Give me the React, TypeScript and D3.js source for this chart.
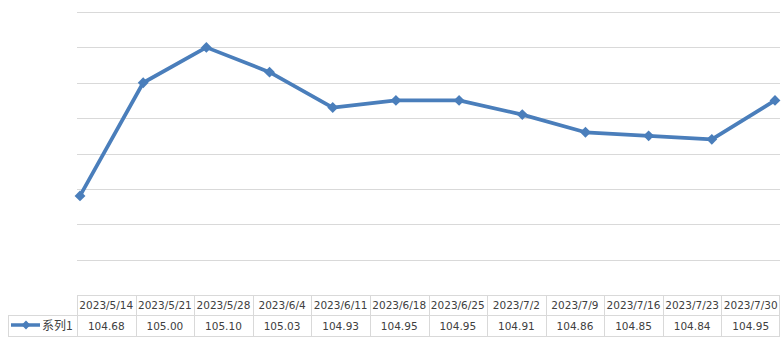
import React from "react";
import * as d3 from "d3";

const categories = ["2023/5/14","2023/5/21","2023/5/28","2023/6/4","2023/6/11","2023/6/18","2023/6/25","2023/7/2","2023/7/9","2023/7/16","2023/7/23","2023/7/30"];
const values = [104.68,105.00,105.10,105.03,104.93,104.95,104.95,104.91,104.86,104.85,104.84,104.95];
const seriesName = "系列1";
const yTicks = [104.5,104.6,104.7,104.8,104.9,105.0,105.1,105.2];

const W = 782, H = 356;
const lineColor = "#4a7ebb";
const gridColor = "#d9d9d9";
const textColor = "#404040";
const font = "'DejaVu Sans', sans-serif";
const cjkFont = "'Noto Sans CJK SC', 'DejaVu Sans', sans-serif";

export default function App() {
  const x = d3.scalePoint<string>().domain(categories).range([80, 775]).padding(0);
  const y = d3.scaleLinear().domain([104.4, 105.2]).range([295, 12]);
  const band = d3.scaleBand<string>().domain(categories).range([77, 780]);
  const line = d3.line<number>().x((_, i) => x(categories[i]) as number).y(d => y(d));
  const diamond = d3.symbol().type(d3.symbolDiamond2).size(75)();
  const tableTop = 295, rowMid = 315, tableBottom = 336;
  return (
    <svg width={W} height={H} style={{ position: "absolute", left: 0, top: 0, background: "#fff" }}>
      {yTicks.map(t => (
        <line key={t} x1={77} x2={780} y1={Math.round(y(t)) + 0.5} y2={Math.round(y(t)) + 0.5} stroke={gridColor} strokeWidth={1} />
      ))}
      <path d={line(values) || ""} fill="none" stroke={lineColor} strokeWidth={3.75} strokeLinejoin="round" />
      {values.map((v, i) => (
        <path key={i} d={diamond || ""} transform={`translate(${x(categories[i])},${y(v)})`} fill={lineColor} />
      ))}
      {/* data table */}
      <g stroke={gridColor} strokeWidth={1} fill="none" shapeRendering="crispEdges">
        <line x1={77} x2={780} y1={tableTop + 0.5} y2={tableTop + 0.5} />
        <line x1={8} x2={780} y1={rowMid + 0.5} y2={rowMid + 0.5} />
        <line x1={8} x2={780} y1={tableBottom + 0.5} y2={tableBottom + 0.5} />
        <line x1={8.5} x2={8.5} y1={rowMid} y2={tableBottom} />
        {categories.map(c => (
          <line key={c} x1={Math.round(band(c) as number) + 0.5} x2={Math.round(band(c) as number) + 0.5} y1={tableTop} y2={tableBottom} />
        ))}
        <line x1={779.5} x2={779.5} y1={tableTop} y2={tableBottom} />
      </g>
      <g fontFamily={font} fontSize={10.5} fill={textColor} textAnchor="middle">
        {categories.map(c => (
          <text key={c} x={(band(c) as number) + band.bandwidth() / 2} y={309}>{c}</text>
        ))}
        {values.map((v, i) => (
          <text key={i} x={(band(categories[i]) as number) + band.bandwidth() / 2} y={330}>{v.toFixed(2)}</text>
        ))}
      </g>
      <line x1={11} x2={40} y1={325} y2={325} stroke={lineColor} strokeWidth={3.5} />
      <path d={d3.symbol().type(d3.symbolDiamond2).size(50)() || ""} transform="translate(26,325)" fill={lineColor} />
      <text x={42} y={330} fontFamily={cjkFont} fontSize={12} fill={textColor}>{seriesName}</text>
    </svg>
  );
}
